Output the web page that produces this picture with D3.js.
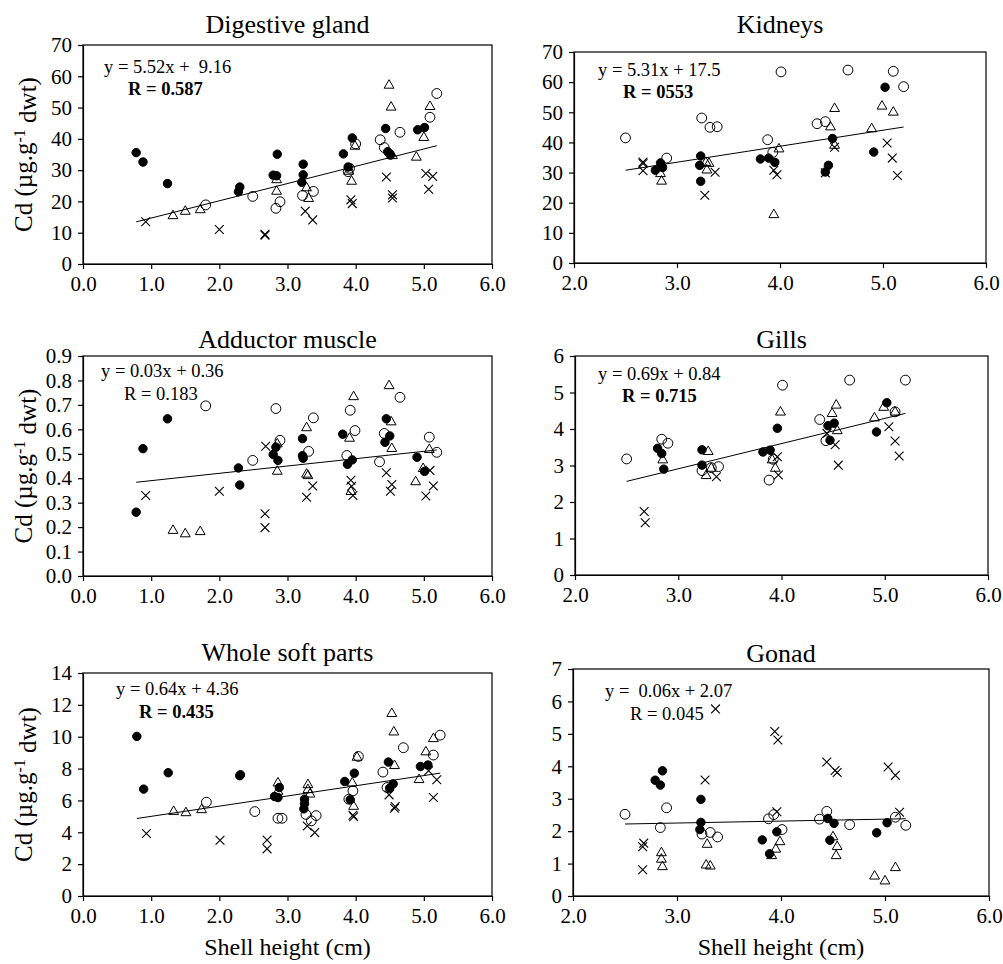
<!DOCTYPE html>
<html>
<head>
<meta charset="utf-8">
<script src="https://cdn.jsdelivr.net/npm/d3@7"></script>
<style>
    body { margin: 0; background: #fff; }
    text { font-family: "Liberation Serif", "Times New Roman", serif; fill: #000; }
</style>
</head>
<body>
<div id="chart"></div>
<script>
'use strict';

/*============================
=            Data            =
============================*/

// Shell height (cm), Cd (ug/g dwt): filled circle, open circle, triangle, cross

var dgFilled = [[0.78,35.6],[0.88,32.6],[1.24,25.7],[2.30,24.6],[2.28,23.1],[2.79,28.4],[2.84,28.2],[2.85,35.1],[3.23,31.9],[3.23,28.5],[3.21,26.1],[3.82,35.2],[3.95,40.3],[3.89,31.0],[4.44,43.3],[4.47,35.9],[4.51,34.8],[4.91,42.9],[5.01,43.6]];
var dgOpen   = [[1.80,18.9],[2.49,21.6],[2.83,17.8],[2.89,19.9],[3.22,21.9],[3.38,23.2],[3.89,29.5],[3.91,30.6],[4.00,38.4],[4.36,39.7],[4.42,37.2],[4.65,42.1],[5.09,46.9],[5.19,54.5]];
var dgTri    = [[1.32,15.4],[1.50,16.8],[1.72,17.3],[2.84,26.9],[2.84,23.2],[3.28,24.3],[3.31,20.9],[3.90,29.6],[3.94,26.4],[3.99,37.6],[4.49,57.1],[4.52,50.1],[4.54,34.6],[4.89,34.1],[5.00,40.4],[5.09,50.3]];
var dgCross  = [[0.92,13.5],[2.00,11.0],[2.67,9.5],[2.67,9.2],[3.26,16.9],[3.37,14.1],[3.93,20.5],[3.95,19.3],[4.45,27.8],[4.54,22.1],[4.54,21.1],[5.03,28.9],[5.13,28.0],[5.07,23.9]];

var kdFilled = [[2.79,30.8],[2.84,33.2],[2.86,31.7],[3.23,35.5],[3.22,32.4],[3.23,27.1],[3.81,34.5],[3.89,34.8],[3.95,33.4],[4.51,41.3],[4.47,32.4],[4.44,30.2],[4.91,36.8],[5.02,58.3]];
var kdOpen   = [[2.50,41.5],[2.90,34.8],[3.24,48.1],[3.32,45.0],[3.39,45.2],[3.88,40.9],[3.93,36.7],[4.01,63.4],[4.36,46.2],[4.44,46.9],[4.66,64.0],[5.10,63.6],[5.20,58.5]];
var kdTri    = [[2.84,29.6],[2.85,27.1],[3.28,33.3],[3.31,33.0],[3.29,30.8],[3.94,16.0],[3.99,37.8],[4.49,45.1],[4.53,51.2],[4.53,39.0],[4.89,44.5],[4.99,52.0],[5.10,50.0]];
var kdCross  = [[2.67,33.5],[2.67,33.0],[2.67,30.6],[3.27,22.5],[3.37,30.1],[3.94,30.8],[3.97,29.3],[4.44,29.9],[4.53,38.4],[5.04,39.8],[5.09,34.8],[5.14,29.0]];

var amFilled = [[0.78,0.261],[0.88,0.521],[1.24,0.643],[2.28,0.442],[2.30,0.372],[2.79,0.497],[2.83,0.527],[2.86,0.473],[3.22,0.562],[3.22,0.492],[3.23,0.482],[3.81,0.580],[3.88,0.457],[3.95,0.475],[4.45,0.643],[4.43,0.547],[4.50,0.573],[4.90,0.486],[5.01,0.428]];
var amOpen   = [[1.80,0.696],[2.49,0.473],[2.83,0.685],[2.89,0.555],[3.31,0.510],[3.38,0.647],[3.87,0.493],[3.92,0.678],[3.99,0.595],[4.35,0.467],[4.42,0.583],[4.65,0.731],[5.08,0.568],[5.19,0.506]];
var amTri    = [[1.32,0.186],[1.50,0.172],[1.72,0.181],[2.85,0.428],[2.85,0.540],[3.28,0.606],[3.28,0.416],[3.30,0.410],[3.91,0.563],[3.97,0.733],[3.93,0.345],[4.49,0.778],[4.52,0.630],[4.53,0.521],[4.88,0.385],[4.99,0.439],[5.08,0.517]];
var amCross  = [[0.92,0.329],[2.00,0.347],[2.67,0.255],[2.67,0.198],[2.68,0.531],[3.28,0.322],[3.37,0.368],[3.93,0.392],[3.94,0.367],[3.96,0.329],[4.45,0.422],[4.53,0.374],[4.51,0.347],[5.03,0.327],[5.09,0.432],[5.14,0.368]];

var glFilled = [[2.80,3.47],[2.84,3.33],[2.86,2.90],[3.23,3.43],[3.23,3.01],[3.82,3.37],[3.89,3.42],[3.96,4.02],[4.45,4.09],[4.51,4.16],[4.47,3.69],[4.92,3.92],[5.02,4.72]];
var glOpen   = [[2.50,3.18],[2.84,3.72],[2.90,3.61],[3.23,2.86],[3.32,2.94],[3.39,2.97],[3.88,2.60],[3.92,3.17],[4.01,5.20],[4.37,4.26],[4.43,3.68],[4.66,5.34],[5.10,4.47],[5.20,5.34]];
var glTri    = [[2.85,3.15],[3.29,3.38],[3.27,2.72],[3.32,2.92],[3.91,3.15],[3.94,2.92],[3.99,4.46],[4.49,4.42],[4.53,4.65],[4.54,3.95],[4.90,4.30],[4.99,4.59],[5.10,4.46]];
var glCross  = [[2.67,1.74],[2.68,1.43],[3.37,2.69],[3.96,3.24],[3.97,2.74],[4.44,3.88],[4.52,3.57],[4.55,3.01],[5.04,4.06],[5.10,3.67],[5.14,3.26]];

var wsFilled = [[0.79,10.02],[0.89,6.71],[1.25,7.74],[2.31,7.61],[2.30,7.55],[2.81,6.25],[2.88,6.81],[2.86,6.18],[3.25,6.08],[3.25,5.79],[3.24,5.47],[3.84,7.19],[3.92,6.04],[3.98,7.71],[4.48,8.41],[4.50,6.77],[4.55,7.04],[4.95,8.13],[5.06,8.22]];
var wsOpen   = [[1.81,5.89],[2.52,5.30],[2.86,4.88],[2.92,4.88],[3.27,5.12],[3.35,4.72],[3.42,5.05],[3.90,6.08],[3.96,6.60],[4.04,8.76],[4.40,7.78],[4.46,6.81],[4.70,9.31],[5.14,8.85],[5.24,10.10]];
var wsTri    = [[1.33,5.30],[1.51,5.22],[1.74,5.41],[2.86,7.09],[2.86,6.56],[3.30,6.98],[3.30,6.67],[3.33,6.39],[3.95,7.09],[3.97,5.62],[4.02,8.70],[4.53,11.45],[4.56,10.29],[4.57,8.18],[4.93,7.30],[5.03,9.04],[5.14,9.87]];
var wsCross  = [[0.93,3.92],[2.01,3.50],[2.70,3.52],[2.70,2.96],[3.29,4.40],[3.40,3.98],[3.96,5.07],[3.97,4.97],[4.49,6.35],[4.58,5.62],[4.57,5.51],[5.07,7.86],[5.19,7.30],[5.14,6.18]];

var gnFilled = [[2.79,3.57],[2.84,3.42],[2.86,3.86],[3.23,2.98],[3.23,2.27],[3.22,2.05],[3.82,1.73],[3.89,1.30],[3.96,1.98],[4.45,2.39],[4.51,2.24],[4.47,1.72],[4.92,1.95],[5.02,2.26]];
var gnOpen   = [[2.50,2.52],[2.84,2.11],[2.90,2.72],[3.24,1.91],[3.32,1.96],[3.39,1.82],[3.88,2.38],[3.93,2.51],[4.01,2.05],[4.37,2.37],[4.44,2.61],[4.66,2.20],[5.10,2.43],[5.20,2.18]];
var gnTri    = [[2.85,1.33],[2.85,1.13],[2.86,0.90],[3.29,1.59],[3.28,0.95],[3.32,0.92],[3.91,1.24],[3.95,1.44],[3.99,1.67],[4.50,1.82],[4.54,1.52],[4.53,1.24],[4.90,0.61],[5.00,0.46],[5.10,0.87]];
var gnCross  = [[2.68,1.63],[2.67,1.52],[2.67,0.81],[3.27,3.58],[3.37,5.77],[3.94,5.07],[3.97,4.81],[3.96,2.60],[4.44,4.13],[4.52,3.87],[4.54,3.81],[5.03,3.98],[5.10,3.72],[5.14,2.58]];

var panelTitles   = ["Digestive gland", "Kidneys", "Adductor muscle", "Gills", "Whole soft parts", "Gonad"];
var fitSlopes     = [5.52, 5.31, 0.03, 0.69, 0.64, 0.06];
var fitIntercepts = [9.16, 17.5, 0.36, 0.84, 4.36, 2.07];
var eqLabels      = ["y = 5.52x +  9.16", "y = 5.31x + 17.5", "y = 0.03x + 0.36", "y = 0.69x + 0.84", "y = 0.64x + 4.36", "y =  0.06x + 2.07"];
var rLabels       = ["R = 0.587", "R = 0553", "R = 0.183", "R = 0.715", "R = 0.435", "R = 0.045"];
var rBold         = [true, true, false, true, true, false];

var xTicksWide    = [0, 1, 2, 3, 4, 5, 6];
var xTicksNarrow  = [2, 3, 4, 5, 6];
var yTicksDg      = [0, 10, 20, 30, 40, 50, 60, 70];
var yTicksAm      = [0, 0.1, 0.2, 0.3, 0.4, 0.5, 0.6, 0.7, 0.8, 0.9];
var yTicksGl      = [0, 1, 2, 3, 4, 5, 6];
var yTicksWs      = [0, 2, 4, 6, 8, 10, 12, 14];
var yTicksGn      = [0, 1, 2, 3, 4, 5, 6, 7];

/*=====  End of Data  ======*/

var width = 1003, height = 964;
var serif = "'Liberation Serif', 'Times New Roman', serif";

var svg = d3.select("#chart").append("svg")
    .attr("width", width)
    .attr("height", height);

svg.append("rect").attr("width", width).attr("height", height).attr("fill", "#fff");

// layout per panel: plot box, title baseline, equation / R positions
var panels = [
    { series: [dgFilled, dgOpen, dgTri, dgCross], xTicks: xTicksWide,   yTicks: yTicksDg, yFmt: "d",
      box: [83, 45, 492, 264],  titleY: 33,  eq: [104, 73],  r: [128, 95],  yLabel: true,  xLabel: false },
    { series: [kdFilled, kdOpen, kdTri, kdCross], xTicks: xTicksNarrow, yTicks: yTicksDg, yFmt: "d",
      box: [574, 52, 986, 263], titleY: 33,  eq: [598, 76],  r: [623, 98],  yLabel: false, xLabel: false },
    { series: [amFilled, amOpen, amTri, amCross], xTicks: xTicksWide,   yTicks: yTicksAm, yFmt: ".1f",
      box: [83, 356, 492, 576], titleY: 348, eq: [101, 377], r: [124, 400], yLabel: true,  xLabel: false },
    { series: [glFilled, glOpen, glTri, glCross], xTicks: xTicksNarrow, yTicks: yTicksGl, yFmt: "d",
      box: [575, 356, 988, 575], titleY: 348, eq: [598, 380], r: [622, 402], yLabel: false, xLabel: false },
    { series: [wsFilled, wsOpen, wsTri, wsCross], xTicks: xTicksWide,   yTicks: yTicksWs, yFmt: "d",
      box: [83, 673, 492, 896], titleY: 661, eq: [116, 695], r: [139, 718], yLabel: true,  xLabel: true },
    { series: [gnFilled, gnOpen, gnTri, gnCross], xTicks: xTicksNarrow, yTicks: yTicksGn, yFmt: "d",
      box: [573, 669, 989, 896], titleY: 662, eq: [605, 697], r: [630, 720], yLabel: false, xLabel: true }
];

var symbols = [
    d3.symbol().type(d3.symbolCircle).size(56),
    d3.symbol().type(d3.symbolCircle).size(76),
    d3.symbol().type(d3.symbolTriangle).size(42),
    d3.symbol().type(d3.symbolTimes).size(52)
];

/*======================================
=            Draw each panel           =
======================================*/

panels.forEach(function (p, i) {
    var x0 = p.box[0], y0 = p.box[1], x1 = p.box[2], y1 = p.box[3];
    var x = d3.scaleLinear().domain(d3.extent(p.xTicks)).range([x0, x1]);
    var y = d3.scaleLinear().domain(d3.extent(p.yTicks)).range([y1, y0]);

    var g = svg.append("g").attr("class", "panel");

    // frame
    g.append("rect")
        .attr("x", x0).attr("y", y0)
        .attr("width", x1 - x0).attr("height", y1 - y0)
        .attr("fill", "none").attr("stroke", "#000").attr("stroke-width", 1.2);

    var xAxis = g.append("g")
        .attr("transform", "translate(0," + y1 + ")")
        .call(d3.axisBottom(x).tickValues(p.xTicks).tickFormat(d3.format(".1f"))
            .tickSize(5).tickSizeOuter(0).tickPadding(7));

    var yAxis = g.append("g")
        .attr("transform", "translate(" + x0 + ",0)")
        .call(d3.axisLeft(y).tickValues(p.yTicks).tickFormat(d3.format(p.yFmt))
            .tickSize(5).tickSizeOuter(0).tickPadding(6));

    [xAxis, yAxis].forEach(function (a) {
        a.attr("font-family", serif).attr("font-size", 21);
        a.selectAll("path, line").attr("stroke", "#000").attr("stroke-width", 1.2);
        a.selectAll("text").attr("fill", "#000");
    });

    // regression line over the x range of the points
    var allX = [].concat.apply([], p.series).map(function (d) { return d[0]; });
    var xr = d3.extent(allX);
    var line = d3.line().x(function (d) { return x(d); })
        .y(function (d) { return y(fitSlopes[i] * d + fitIntercepts[i]); });
    g.append("path")
        .attr("d", line(xr))
        .attr("fill", "none").attr("stroke", "#000").attr("stroke-width", 1);

    // markers
    p.series.forEach(function (data, s) {
        g.append("g").selectAll("path")
            .data(data)
            .enter().append("path")
                .attr("transform", function (d) { return "translate(" + x(d[0]) + "," + y(d[1]) + ")"; })
                .attr("d", symbols[s])
                .attr("fill", s === 0 ? "#000" : "none")
                .attr("stroke", "#000")
                .attr("stroke-width", s === 3 ? 1.1 : 1);
    });

    // title
    g.append("text")
        .attr("x", (x0 + x1) / 2).attr("y", p.titleY)
        .attr("text-anchor", "middle")
        .style("font-size", "26px")
        .text(panelTitles[i]);

    // equation & R
    g.append("text")
        .attr("x", p.eq[0]).attr("y", p.eq[1])
        .style("font-size", "18.5px")
        .style("white-space", "pre")
        .text(eqLabels[i]);
    g.append("text")
        .attr("x", p.r[0]).attr("y", p.r[1])
        .style("font-size", "18.5px")
        .style("font-weight", rBold[i] ? "bold" : "normal")
        .text(rLabels[i]);

    if (p.yLabel) {
        var yl = g.append("text")
            .attr("transform", "translate(32," + ((y0 + y1) / 2) + ") rotate(-90)")
            .attr("text-anchor", "middle")
            .style("font-size", "25px");
        yl.append("tspan").text("Cd (\u00b5g.g");
        yl.append("tspan").attr("dy", "-0.45em").style("font-size", "16px").text("-1");
        yl.append("tspan").attr("dy", "0.45em").text(" dwt)");
    }

    if (p.xLabel) {
        g.append("text")
            .attr("x", (x0 + x1) / 2).attr("y", 955)
            .attr("text-anchor", "middle")
            .style("font-size", "24px")
            .text("Shell height (cm)");
    }
});

/*=====  End of Draw each panel  ======*/
</script>
</body>
</html>
